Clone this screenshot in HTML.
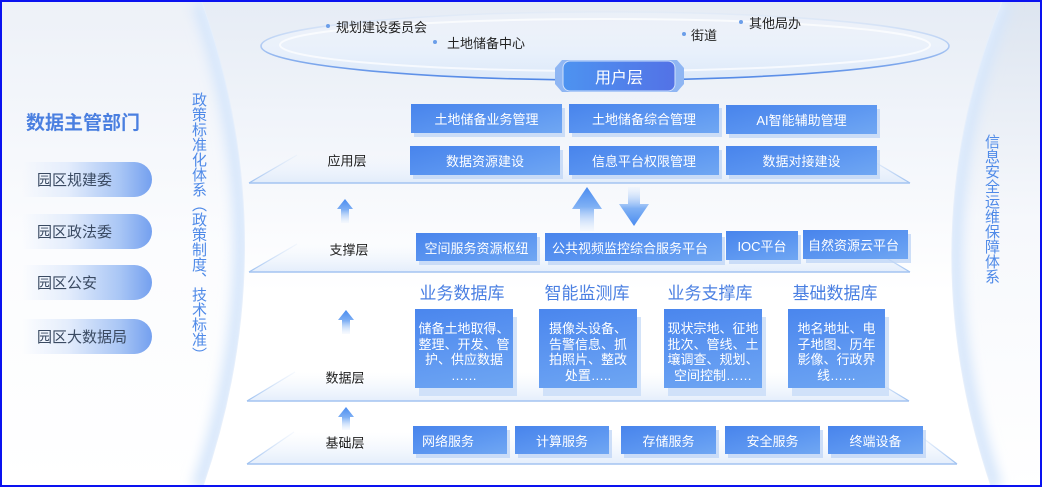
<!DOCTYPE html>
<html><head><meta charset="utf-8"><style>
*{margin:0;padding:0;box-sizing:border-box}
body{width:1042px;height:487px;overflow:hidden;background:#fff;font-family:"Liberation Sans","Noto Sans CJK SC",sans-serif}
#c{position:absolute;left:0;top:0;width:1042px;height:487px;border:2px solid #0a12f0;overflow:hidden;background:linear-gradient(180deg,#e6ecf5 0%,#f3f6fb 30%,#fff 60%)}
svg{position:absolute;left:0;top:0}
.a{position:absolute}
.b{position:absolute;background:linear-gradient(165deg,#4884ec 0%,#5e98f1 60%,#70a7f3 100%);color:#fff;font-size:13px;display:flex;align-items:center;justify-content:center;white-space:nowrap;box-shadow:3px 4px 0 rgba(190,212,246,.75)}
.d{position:absolute;background:linear-gradient(170deg,#4a86ee 0%,#5f98f1 55%,#6ea6f3 100%);color:#fff;font-size:13px;line-height:15.5px;text-align:center;padding-top:12px;box-shadow:4px 8px 0 rgba(200,220,248,.8)}
.t{position:absolute;font-size:17px;color:#4a7fe2;white-space:nowrap;transform:translateX(-50%)}
.l{position:absolute;font-size:13px;color:#222;white-space:nowrap;transform:translate(-50%,-50%)}
.p{position:absolute;left:20px;width:130px;height:35px;border-radius:0 18px 18px 0;background:linear-gradient(90deg,rgba(255,255,255,0) 0%,#e4edfc 35%,#a9c6f5 75%,#74a0ef 100%);font-size:15px;color:#3a4a62;padding-left:15px;display:flex;align-items:center}
.u{position:absolute;font-size:13px;color:#222;white-space:nowrap}
.dot{position:absolute;width:4px;height:4px;border-radius:2px;background:#6b9ee9}
.v{position:absolute;writing-mode:vertical-rl;font-size:15px;line-height:15px;color:#4f8ae8;white-space:nowrap}
</style></head><body><div id="c">
<svg width="1042" height="487" viewBox="0 0 1042 487">
<defs>
<filter id="bl" x="-50%" y="-50%" width="200%" height="200%"><feGaussianBlur stdDeviation="6"/></filter>
<filter id="bl2" x="-50%" y="-50%" width="200%" height="200%"><feGaussianBlur stdDeviation="3"/></filter>
<clipPath id="lc"><path d="M0,0 L200,0 Q285,243 200,487 L0,487 Z"/></clipPath>
<clipPath id="rc"><path d="M1042,0 L1000,0 Q905,237 990,487 L1042,487 Z"/></clipPath>
<linearGradient id="lp" x1="0" y1="0" x2="0" y2="1"><stop offset="0" stop-color="#edf1f8"/><stop offset="0.5" stop-color="#fbfcfe"/><stop offset="1" stop-color="#fff"/></linearGradient>
<linearGradient id="rp" x1="0" y1="0" x2="0" y2="1"><stop offset="0" stop-color="#dde5f0"/><stop offset="0.45" stop-color="#f6f8fc"/><stop offset="1" stop-color="#fff"/></linearGradient>
<linearGradient id="pf" x1="0" y1="0" x2="0" y2="1"><stop offset="0" stop-color="#eaf2fd" stop-opacity="0"/><stop offset="1" stop-color="#dbe8fa" stop-opacity="0.75"/></linearGradient>
<linearGradient id="sl" x1="0" y1="1" x2="0" y2="0"><stop offset="0" stop-color="#9cc0f0"/><stop offset="1" stop-color="#cfe0f8" stop-opacity="0.2"/></linearGradient>
<linearGradient id="ef" x1="0" y1="0" x2="0" y2="1"><stop offset="0" stop-color="#f2f6fc" stop-opacity="0.3"/><stop offset="0.6" stop-color="#e8f0fb"/><stop offset="1" stop-color="#dce9fa"/></linearGradient>
<linearGradient id="es" x1="0" y1="0" x2="0" y2="1"><stop offset="0" stop-color="#dce8f8" stop-opacity="0.4"/><stop offset="0.55" stop-color="#a6c4f2"/><stop offset="1" stop-color="#4f86e6"/></linearGradient>
<linearGradient id="au" x1="0" y1="0" x2="0" y2="1"><stop offset="0" stop-color="#4a8cf0"/><stop offset="0.45" stop-color="#7fb0f4"/><stop offset="1" stop-color="#e6f0fd" stop-opacity="0.3"/></linearGradient>
<linearGradient id="ad" x1="0" y1="1" x2="0" y2="0"><stop offset="0" stop-color="#4a8cf0"/><stop offset="0.45" stop-color="#7fb0f4"/><stop offset="1" stop-color="#e6f0fd" stop-opacity="0.3"/></linearGradient>
<linearGradient id="ut" x1="0" y1="0" x2="1" y2="0"><stop offset="0" stop-color="#4d93f0"/><stop offset="1" stop-color="#5372e6"/></linearGradient>
</defs>
<!-- side panels -->
<path d="M0,0 L200,0 Q285,243 200,487 L0,487 Z" fill="url(#lp)"/>
<g clip-path="url(#lc)"><path d="M200,0 Q285,243 200,487" fill="none" stroke="#d6e6fb" stroke-width="22" filter="url(#bl)"/><path d="M200,0 Q285,243 200,487" fill="none" stroke="#e3eefc" stroke-width="5" filter="url(#bl2)"/></g>
<path d="M200,0 Q285,243 200,487" fill="none" stroke="#e6effb" stroke-width="1"/>
<path d="M1042,0 L1000,0 Q905,237 990,487 L1042,487 Z" fill="url(#rp)"/>
<g clip-path="url(#rc)"><path d="M1000,0 Q905,237 990,487" fill="none" stroke="#d6e6fb" stroke-width="22" filter="url(#bl)"/><path d="M1000,0 Q905,237 990,487" fill="none" stroke="#e3eefc" stroke-width="5" filter="url(#bl2)"/></g>
<path d="M1000,0 Q905,237 990,487" fill="none" stroke="#e6effb" stroke-width="1"/>
<!-- top ellipse -->
<ellipse cx="603" cy="44" rx="344" ry="34" fill="url(#ef)"/>
<ellipse cx="603" cy="43" rx="325" ry="26" fill="none" stroke="#ffffff" stroke-opacity="0.7" stroke-width="2"/>
<ellipse cx="603" cy="44" rx="344" ry="34" fill="none" stroke="url(#es)" stroke-width="1.6"/>
<!-- platforms -->
<polygon points="295,153 861,153 908,181 247,181" fill="url(#pf)"/>
<polygon points="295,242 861,242 908,270 247,270" fill="url(#pf)"/>
<polygon points="293,370 859,370 907,399 245,399" fill="url(#pf)"/>
<polygon points="292,430 913,430 955,462 245,462" fill="url(#pf)"/>
<g fill="none" stroke="url(#sl)" stroke-width="1.2">
<line x1="247" y1="181" x2="295" y2="153"/><line x1="861" y1="153" x2="908" y2="181"/>
<line x1="247" y1="270" x2="295" y2="242"/><line x1="861" y1="242" x2="908" y2="270"/>
<line x1="245" y1="399" x2="293" y2="370"/><line x1="859" y1="370" x2="907" y2="399"/>
<line x1="245" y1="462" x2="292" y2="430"/><line x1="913" y1="430" x2="955" y2="462"/>
</g>
<g stroke="#a3c4f1" stroke-width="1.6">
<line x1="247" y1="181" x2="908" y2="181"/>
<line x1="247" y1="270" x2="908" y2="270"/>
<line x1="245" y1="399" x2="907" y2="399"/>
<line x1="245" y1="462" x2="955" y2="462"/>
</g>
<!-- small arrows -->
<path d="M343,197 L351,207 L347,207 L347,221 L339,221 L339,207 L335,207 Z" fill="url(#au)"/>
<path d="M344,308 L352,318 L348,318 L348,332 L340,332 L340,318 L336,318 Z" fill="url(#au)"/>
<path d="M344,405 L352,415 L348,415 L348,428 L340,428 L340,415 L336,415 Z" fill="url(#au)"/>
<!-- big arrows -->
<path d="M585,185 L600,207 L592,207 L592,229 L578,229 L578,207 L570,207 Z" fill="url(#au)"/>
<path d="M626,185 L638,185 L638,202 L647,202 L632,224 L617,202 L626,202 Z" fill="url(#ad)"/>
<!-- user layer tab -->
<path d="M560,58 L675,58 L682,66 L682,82 L675,90 L560,90 L553,82 L553,66 Z" fill="#8fb6f3"/>
<rect x="561" y="59" width="112" height="30" rx="7" fill="url(#ut)" stroke="#cfe0fb" stroke-width="1"/>
</svg>

<!-- top labels -->
<div class="dot" style="left:324px;top:22px"></div><div class="u" style="left:334px;top:15px">规划建设委员会</div>
<div class="dot" style="left:431px;top:38px"></div><div class="u" style="left:445px;top:31px">土地储备中心</div>
<div class="dot" style="left:680px;top:30px"></div><div class="u" style="left:689px;top:23px">街道</div>
<div class="dot" style="left:737px;top:18px"></div><div class="u" style="left:747px;top:11px">其他局办</div>
<div class="a" style="left:561px;top:59px;width:112px;height:30px;color:#fff;font-size:16px;display:flex;align-items:center;justify-content:center">用户层</div>

<!-- left panel -->
<div class="a" style="left:24px;top:106px;font-size:19px;font-weight:bold;color:#4a7fe0;white-space:nowrap">数据主管部门</div>
<div class="p" style="top:160px">园区规建委</div>
<div class="p" style="top:212px">园区政法委</div>
<div class="p" style="top:263px">园区公安</div>
<div class="p" style="top:317px">园区大数据局</div>
<div class="v" style="left:189px;top:90px">政策标准化体系（政策制度、技术标准）</div>
<div class="v" style="left:982px;top:132px">信息安全运维保障体系</div>

<!-- layer labels -->
<div class="l" style="left:345px;top:158px">应用层</div>
<div class="l" style="left:347px;top:247px">支撑层</div>
<div class="l" style="left:343px;top:375px">数据层</div>
<div class="l" style="left:343px;top:440px">基础层</div>

<!-- app layer -->
<div class="b" style="left:409px;top:102px;width:151px;height:29px">土地储备业务管理</div>
<div class="b" style="left:567px;top:102px;width:150px;height:29px">土地储备综合管理</div>
<div class="b" style="left:724px;top:103px;width:151px;height:29px">AI智能辅助管理</div>
<div class="b" style="left:408px;top:144px;width:150px;height:29px">数据资源建设</div>
<div class="b" style="left:567px;top:144px;width:150px;height:29px">信息平台权限管理</div>
<div class="b" style="left:724px;top:144px;width:151px;height:29px">数据对接建设</div>

<!-- support layer -->
<div class="b" style="left:414px;top:231px;width:121px;height:28px">空间服务资源枢纽</div>
<div class="b" style="left:543px;top:231px;width:177px;height:28px;justify-content:flex-start;padding-left:7px;align-items:flex-start;padding-top:5px">公共视频监控综合服务平台</div>
<div class="b" style="left:724px;top:229px;width:72px;height:29px">IOC平台</div>
<div class="b" style="left:801px;top:228px;width:105px;height:29px;justify-content:flex-start;padding-left:5px;align-items:flex-start;padding-top:5px">自然资源云平台</div>

<!-- data layer -->
<div class="t" style="left:460px;top:277px">业务数据库</div>
<div class="t" style="left:585px;top:277px">智能监测库</div>
<div class="t" style="left:708px;top:277px">业务支撑库</div>
<div class="t" style="left:833px;top:277px">基础数据库</div>
<div class="d" style="left:413px;top:307px;width:98px;height:79px">储备土地取得、<br>整理、开发、管<br>护、供应数据<br>……</div>
<div class="d" style="left:537px;top:307px;width:98px;height:79px">摄像头设备、<br>告警信息、抓<br>拍照片、整改<br>处置…..</div>
<div class="d" style="left:662px;top:307px;width:98px;height:79px">现状宗地、征地<br>批次、管线、土<br>壤调查、规划、<br>空间控制……</div>
<div class="d" style="left:786px;top:307px;width:97px;height:79px">地名地址、电<br>子地图、历年<br>影像、行政界<br>线……</div>

<!-- base layer -->
<div class="b" style="left:411px;top:424px;width:94px;height:28px;justify-content:flex-start;padding-left:9px">网络服务</div>
<div class="b" style="left:513px;top:424px;width:94px;height:28px">计算服务</div>
<div class="b" style="left:619px;top:424px;width:95px;height:28px">存储服务</div>
<div class="b" style="left:723px;top:424px;width:95px;height:28px">安全服务</div>
<div class="b" style="left:826px;top:424px;width:95px;height:28px">终端设备</div>
</div></body></html>
